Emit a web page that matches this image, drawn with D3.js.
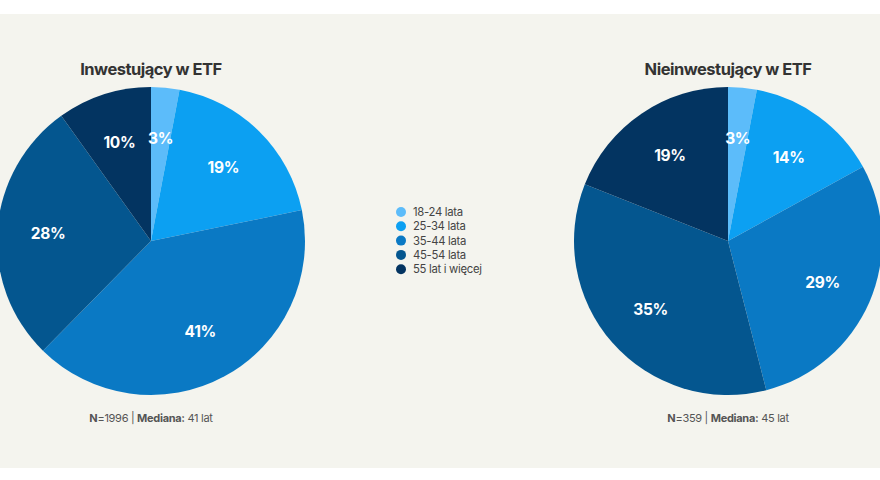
<!DOCTYPE html>
<html>
<head>
<meta charset="utf-8">
<script src="https://cdn.jsdelivr.net/npm/d3@7"></script>
<style>
  html, body { margin: 0; padding: 0; background: #ffffff; }
  svg { display: block; font-family: Inter, "Liberation Sans", sans-serif; }
</style>
</head>
<body>
<svg id="chart" width="880" height="480"></svg>
<script>
// age groups and shares (percent) per respondent group
const ageGroups = ["18-24 lata", "25-34 lata", "35-44 lata", "45-54 lata", "55 lat i więcej"];
const investorsShares = [3, 19, 41, 28, 10];
const nonInvestorsShares = [3, 14, 29, 35, 19];
const groupTitles = ["Inwestujący w ETF", "Nieinwestujący w ETF"];
const sampleSizes = [1996, 359];
const medianAges = [41, 45];

const colors = ["#5cbcfa", "#0ca0f2", "#0a79c4", "#04568f", "#033461"];

const W = 880, H = 480;
const svg = d3.select("#chart");

// light panel background
svg.append("rect")
    .attr("x", 0).attr("y", 14)
    .attr("width", W).attr("height", 454)
    .attr("fill", "#f4f4ee");

const color = d3.scaleOrdinal().domain(ageGroups).range(colors);
const radius = 154;
const centers = [151, 728];
const cy = 241;

const pie = d3.pie().sort(null).value(d => d.value);
const arc = d3.arc().innerRadius(0).outerRadius(radius);
const labelArc = d3.arc().innerRadius(radius * 0.67).outerRadius(radius * 0.67);

[investorsShares, nonInvestorsShares].forEach((shares, i) => {
    const data = ageGroups.map((group, j) => ({ group, value: shares[j] }));
    const g = svg.append("g").attr("transform", `translate(${centers[i]},${cy})`);

    g.selectAll("path.slice")
        .data(pie(data))
        .enter()
        .append("path")
        .attr("class", "slice")
        .attr("d", arc)
        .attr("fill", d => color(d.data.group));

    g.selectAll("text.pct")
        .data(pie(data))
        .enter()
        .append("text")
        .attr("class", "pct")
        .attr("transform", d => `translate(${labelArc.centroid(d)})`)
        .attr("text-anchor", "middle")
        .attr("dy", "0.36em")
        .attr("fill", "#ffffff")
        .attr("font-size", 15.5)
        .attr("font-weight", 700)
        .attr("letter-spacing", -0.3)
        .text(d => d.data.value + "%");

    // title
    svg.append("text")
        .attr("x", centers[i])
        .attr("y", 75)
        .attr("text-anchor", "middle")
        .attr("fill", "#333333")
        .attr("font-size", 16.5)
        .attr("font-weight", 700)
        .attr("letter-spacing", -0.5)
        .text(groupTitles[i]);

    // footer note
    const note = svg.append("text")
        .attr("x", centers[i])
        .attr("y", 422)
        .attr("text-anchor", "middle")
        .attr("fill", "#555555")
        .attr("font-size", 11)
        .attr("letter-spacing", -0.3);
    note.append("tspan").attr("font-weight", 700).text("N");
    note.append("tspan").text(`=${sampleSizes[i]} | `);
    note.append("tspan").attr("font-weight", 700).text("Mediana:");
    note.append("tspan").text(` ${medianAges[i]} lat`);
});

// legend in the middle
const legend = svg.append("g")
    .attr("transform", "translate(401, 212)");

const item = legend.selectAll("g.item")
    .data(ageGroups)
    .enter()
    .append("g")
    .attr("class", "item")
    .attr("transform", (d, i) => `translate(0, ${i * 14.3})`);

item.append("circle")
    .attr("r", 5)
    .attr("fill", d => color(d));

item.append("text")
    .attr("x", 12)
    .attr("dy", "0.35em")
    .attr("fill", "#444444")
    .attr("font-size", 11.3)
    .attr("letter-spacing", -0.3)
    .text(d => d);
</script>
</body>
</html>
